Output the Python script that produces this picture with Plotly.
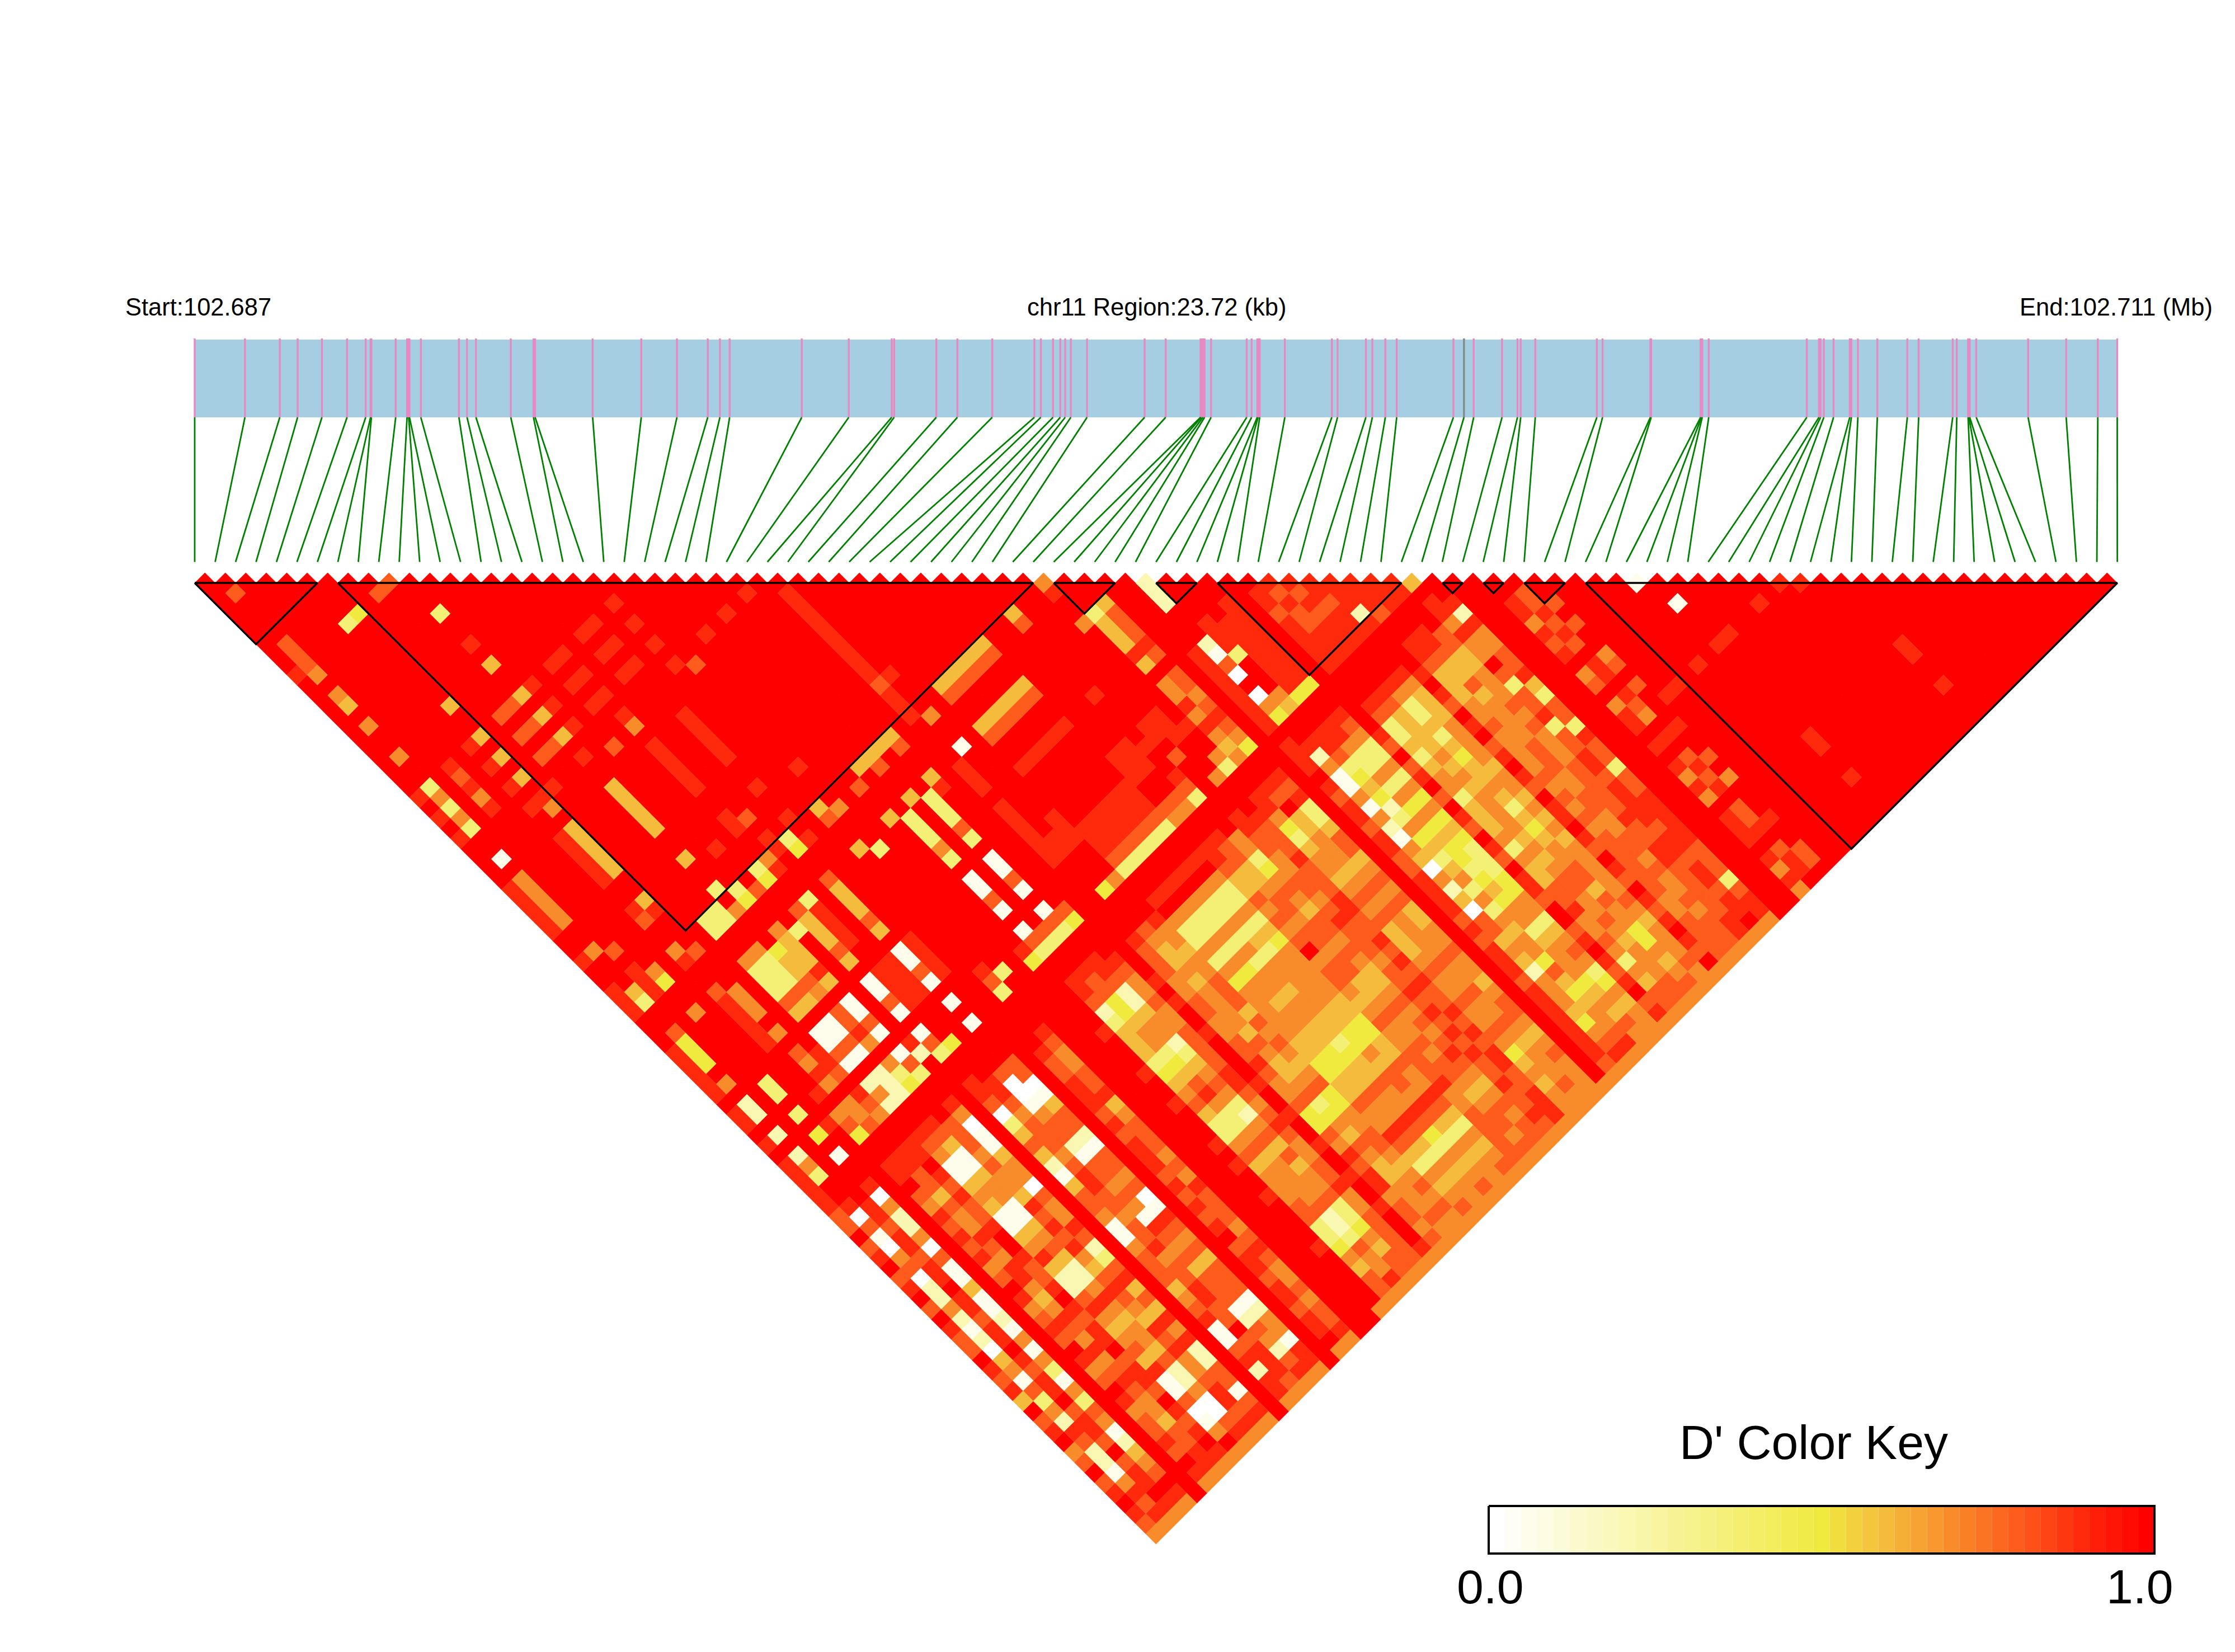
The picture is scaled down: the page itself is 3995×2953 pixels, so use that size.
import plotly.graph_objects as go

# SNP positions along chr11, in kb from the region start
SNP_KB = [0,0.62,1.05,1.27,1.57,1.88,2.11,2.17,2.18,2.48,2.62,2.64,2.65,2.79,3.26,3.36,3.47,3.90,4.18,4.20,
          4.91,5.51,5.95,6.33,6.48,6.60,7.49,8.07,8.60,8.63,9.15,9.41,9.84,10.36,10.44,10.59,10.68,10.74,10.81,11.01,
          11.72,11.98,12.41,12.42,12.44,12.46,12.54,12.98,13.04,13.11,13.12,13.14,13.45,14.03,14.10,14.45,14.53,14.69,14.83,15.53,
          15.66,15.78,16.13,16.32,16.36,16.54,17.30,17.37,17.96,17.97,18.58,18.59,18.60,18.68,19.89,20.04,20.06,20.10,20.22,20.42,
          20.44,20.52,20.76,21.13,21.27,21.69,21.74,21.88,21.89,21.90,21.98,22.62,23.09,23.48,23.72]
REGION_KB = 23.72
LD_BLOCKS = [(0,6),(7,41),(42,45),(47,49),(50,59),(61,62),(63,64),(65,67),(68,94)]

# D' is kept as a level 0-9; everything not listed below is level 9 (D'=1)
LEVEL_DPRIME = [0.0,0.05,0.2,0.36,0.5,0.6,0.7,0.8,0.9,1.0]

# runs of equal D': (first row, last row, first column, last column, level)
DPRIME_RUNS = [
 (31,35,42,42,5),(31,35,43,43,7),(23,26,42,42,5),(10,10,31,35,5),(6,6,31,35,5),(5,5,31,35,8),(1,1,31,35,6),(0,0,31,35,8),
 (1,1,8,10,7),(28,28,30,42,8),(17,17,31,35,8),(14,14,31,35,8),(14,14,47,50,8),(28,28,47,49,8),(28,28,51,54,8),
 (5,5,47,51,8),(6,6,47,49,6),(1,1,47,49,4),(0,0,47,49,8),(42,42,47,49,5),(43,43,47,49,7),(46,46,47,49,2),
 (31,35,46,46,5),(31,35,47,47,7),(31,35,50,50,8),(31,36,56,56,8),(31,35,57,57,8),(31,35,58,58,8),(31,35,59,59,7),(31,35,60,60,3),
 (36,37,54,56,8),(38,39,55,55,8),(40,40,54,56,8),(8,9,47,49,3),(8,9,42,43,3),(8,9,50,50,7),(8,9,51,51,5),(8,9,53,54,1),(14,15,53,56,8),(17,17,53,56,8),
 (23,23,47,49,3),(25,25,47,49,3),(16,16,47,49,5),(11,11,47,49,5),(13,13,47,49,5),(30,30,54,56,8),(28,29,55,56,8),(16,17,22,22,8),
 (16,17,24,24,8),(16,17,26,26,8),(13,14,22,22,8),(13,14,24,24,8),(13,14,26,26,8),(66,67,78,78,8),
]

# single cells: (row, column, level)
DPRIME_CELLS = [
 (1,3,7),(8,10,7),(9,10,7),(6,10,4),(5,10,3),(10,14,3),(10,17,8),(10,19,5),(19,22,8),(19,24,8),(11,22,8),(10,22,5),(9,22,7),(8,22,7),
 (11,24,8),(10,24,5),(9,24,7),(8,24,7),(11,26,8),(10,26,5),(9,26,7),(8,26,7),(14,28,8),(14,29,6),(12,29,7),(10,28,8),(6,22,5),(5,22,8),
 (6,24,5),(5,24,8),(6,26,5),(5,26,8),(6,19,5),(7,28,8),(5,28,8),(6,28,8),(6,29,6),(3,22,8),(3,23,7),(3,24,8),(3,25,6),(3,26,8),
 (1,22,3),(1,23,6),(1,24,3),(1,25,6),(1,26,3),(0,22,8),(0,24,8),(0,26,8),(1,29,1),(0,38,8),(1,38,6),(2,39,7),(1,16,6),(1,13,6),(1,14,5),(0,10,8),
 (1,11,6),(1,19,6),(26,28,8),(24,28,8),(22,28,8),(19,26,8),(19,28,8),(20,29,7),(28,39,7),(29,39,8),(29,43,6),(20,39,8),(17,38,8),(14,38,8),(15,39,7),(14,39,8),
 (17,41,8),(15,41,8),(12,39,8),(10,38,5),(6,38,5),(6,39,8),(5,38,8),(5,39,7),(10,41,3),(16,42,3),(16,43,4),(17,43,8),(15,42,8),(14,42,6),(14,43,8),(13,42,3),(13,43,4),
 (11,42,3),(11,43,4),(12,43,7),(10,43,6),(38,42,5),(38,43,7),(41,42,6),(41,43,8),(19,42,5),(20,43,6),(19,43,7),(24,43,7),(22,43,7),(26,43,7),
 (2,41,8),(3,42,6),(3,43,4),(2,42,8),(2,43,8),(0,41,8),(1,42,5),(1,43,3),(0,42,8),(0,43,8),(5,42,6),(6,43,7),(5,43,8),
 (5,46,7),(3,46,6),(1,46,7),(0,50,8),(1,51,6),(0,51,8),(6,51,6),(14,46,3),(13,46,7),(12,47,3),(11,46,6),(13,50,7),(13,51,5),(10,47,4),(10,48,5),(10,49,5),(10,50,7),(10,51,6),
 (11,50,8),(11,51,5),(9,46,6),(8,46,6),(13,53,1),(13,54,1),(13,55,7),(13,56,1),(16,53,1),(16,54,1),(16,55,7),(16,56,1),(11,53,1),(11,54,1),(10,53,7),(10,54,7),(11,55,7),(10,55,8),
 (9,55,7),(8,55,7),(11,56,1),(10,56,6),(9,56,1),(8,56,1),(13,58,1),(11,58,1),(12,59,2),(12,58,8),(13,59,7),(14,60,4),(13,60,3),(11,59,7),(10,58,6),(9,58,2),(8,58,2),(10,59,3),(9,59,2),(8,59,6),
 (11,60,3),(10,60,4),(9,60,2),(8,60,2),(7,58,8),(6,58,6),(5,58,6),(4,58,8),(7,59,7),(6,59,6),(5,59,7),(7,60,6),(6,60,7),(5,60,4),(6,56,6),(5,56,8),(7,56,7),(6,53,7),(6,54,6),(7,54,8),(7,55,8),(6,55,8),
 (3,53,3),(3,54,3),(1,53,2),(1,54,2),(0,53,8),(0,54,8),(3,56,3),(1,56,2),(0,56,8),(3,58,4),(1,58,2),(1,59,6),(1,60,3),(0,58,8),(0,59,8),(0,60,8),(3,60,1),
 (29,46,1),(25,53,1),(25,54,1),(25,55,7),(25,56,1),(23,53,1),(23,54,1),(23,55,7),(23,56,1),(25,58,1),(23,58,1),(26,60,4),(25,60,3),(25,59,7),(24,59,7),(24,60,3),(23,60,3),(22,60,4),(23,59,7),(22,59,8),
 (20,59,3),(19,60,3),(19,59,7),(19,58,8),(26,59,7),(16,58,1),(16,60,1),(29,60,4),(30,60,6),(36,60,6),(37,60,6),(38,60,3),(38,59,7),(37,59,7),(36,59,7),(39,57,7),(39,54,8),(38,58,8),
 (26,46,5),(26,47,8),(24,46,5),(25,50,7),(25,51,3),(22,46,5),(23,50,6),(23,51,3),(19,46,5),(20,47,3),(16,46,7),(16,50,7),(16,51,5),
 (41,42,6),(42,46,3),(43,46,5),(43,50,8),(41,46,6),(42,50,8),(42,51,5),(43,51,7),(42,53,6),(42,54,6),(43,53,7),(43,54,7),(43,55,6),(43,56,7),(42,56,6),(42,55,8),(43,57,8),(42,57,8),(43,58,7),(42,58,6),(43,59,6),(42,59,5),(43,60,4),(42,60,6),(41,60,3),(41,59,6),(40,60,6),(41,56,8),
 (38,50,8),(59,60,5),(58,60,7),(70,71,1),(71,74,1),(75,78,8),(72,78,8),(71,78,8),(69,78,8),(71,87,8),(71,88,8),(71,91,8),(80,87,8),(80,88,8),(80,91,8),(77,78,8),(78,79,8),
 (63,66,8),(64,66,7),(64,67,7),(63,67,8),(64,68,8),(63,68,6),(65,68,7),(64,69,7),(63,69,8),(65,70,7),(64,70,8),(63,70,7),(64,71,7),(63,71,8),
 (65,73,6),(65,74,7),(64,73,8),(64,74,8),(63,73,6),(63,74,7),(65,76,7),(64,76,8),(63,76,6),(64,77,7),(63,77,8),(64,78,6),(63,78,8),(65,80,8),(64,80,8),(63,80,8),
 (64,82,7),(65,83,7),(63,82,8),(64,83,8),(63,83,6),(65,85,6),(64,85,8),(63,85,6),(64,84,7),(63,84,8),(64,87,7),(64,88,7),(63,87,8),(63,88,8),(65,89,8),(64,89,8),(63,89,8),
 (64,91,7),(65,92,7),(63,91,8),(64,92,8),(63,92,6),(64,93,8),(63,93,8),(63,94,6),(65,93,7),
]

# rows 45-58 against columns 52-60 (cells on or above the diagonal do not exist and are skipped)
MID_FIRST_ROW, MID_FIRST_COL = 45, 52
MID_ROWS = ["988888888","921709064","888399965","988888884","888888884","999999999","988788888","887877888",
            "888787888","978887888","888888828","988878887","988878888","998888888"]

# rows 0-60 against columns 61-94
FAR_FIRST_COL = 61
FAR_ROWS = [
 "88779 78978 97987 79878 59789 67978 9876",
 "99807 10670 22621 20561 73628 72216 8786",
 "99988 78878 89887 88987 88978 87978 8986",
 "99806 22607 11511 21616 31637 61256 7986",
 "99999 99999 99999 99999 99999 99999 9999",
 "99889 76878 78679 86787 98679 86778 7986",
 "99887 75766 87688 65687 68678 76657 7886",
 "99889 87877 89987 78987 88978 87987 8986",
 "99876 11565 11568 52278 65675 81170 1696",
 "99875 11566 11567 52268 65665 72260 0786",
 "99977 76766 58787 86578 76587 86678 8786",
 "99860 11566 07668 72378 57586 82277 1786",
 "99999 99999 99999 99999 99999 99999 9999",
 "99887 03575 21577 61167 77567 81178 2886",
 "99988 76777 67887 76778 67788 77978 8876",
 "99970 01677 21776 76187 67577 71276 2786",
 "99977 01577 21776 70187 67577 71266 1886",
 "99999 99999 99999 99999 99999 99999 9999",
 "99998 77888 78788 87878 78978 87887 8896",
 "99987 66778 56777 67687 77678 76676 7786",
 "99999 99999 99999 99999 99999 99999 9999",
 "99999 99999 99999 99999 99999 99999 9999",
 "99999 98999 89989 99898 99899 99899 9996",
 "99887 23555 34567 53367 56667 73346 5776",
 "99877 44566 34578 63367 56666 72237 6686",
 "99887 22566 23567 63267 57566 73346 5776",
 "99987 66766 77778 87678 76677 86677 7776",
 "99999 98989 98999 98998 99899 89989 9986",
 "99987 77667 76677 87667 44768 78867 7676",
 "99976 55656 66657 65567 34657 65566 6766",
 "99986 65667 77576 76567 44667 76567 6766",
 "99896 33636 46666 65544 55766 87536 5676",
 "99896 33636 46656 65544 55766 87536 5666",
 "99896 33636 36656 65534 55766 87436 5676",
 "99896 33635 36666 65544 65776 87536 5666",
 "99896 33635 46666 65544 55766 87536 5676",
 "99887 55767 67967 76567 66777 86677 7776",
 "99877 55677 67767 75567 66767 76567 7676",
 "99966 34676 57767 65567 67678 76567 6776",
 "99887 76677 67877 76778 78787 87787 7876",
 "99987 77877 78877 87878 77878 78877 8886",
 "99886 43566 56767 55567 66766 76456 5666",
 "99879 55666 56767 66667 66766 76566 6766",
 "99878 33577 56767 55667 66567 76567 6666",
 "99999 99999 99999 99999 99999 99999 9996",
 "98889 87887 88778 88878 78887 88888 8876",
 "99826 11616 21650 62507 75652 66654 6786",
 "99887 34542 36453 56363 65664 75456 6786",
 "99886 33636 46454 43454 66356 66456 5766",
 "99876 33636 46454 33344 66356 76346 5666",
 "99999 87978 97987 98798 87997 89878 9786",
 "99987 33535 66355 56365 57786 67636 5776",
 "99987 55556 56566 66565 67766 76566 6776",
 "99986 33535 45565 35456 67757 66446 5676",
 "99986 55566 66566 56565 66666 76566 6766",
 "99998 98798 97898 79889 87987 98789 8796",
 "99887 55566 76666 76767 67777 77667 7776",
 "99887 55756 66677 76677 66776 76676 7776",
 "99977 55666 76766 67777 78778 87777 7886",
 "98868 66973 77837 78878 88878 87887 8896",
 "99828 66778 53773 87737 78888 87773 7886",
]

TEXTS_TOP = {"start": "Start:102.687", "middle": "chr11 Region:23.72 (kb)", "end": "End:102.711 (Mb)"}
KEY_TITLE = "D' Color Key"
KEY_LOW, KEY_HIGH = "0.0", "1.0"

N = len(SNP_KB)
X0, Y0, HALF = 348.0, 1042.0, 18.28
TRACK_L, TRACK_R, TRACK_T, TRACK_B, LINE_B = 348.0, 3784.5, 607.0, 746.0, 1004.5

STOPS = [(0.0,(255,255,255)),(0.5,(240,234,63)),(0.55,(242,208,62)),(0.6,(244,187,60)),(0.7,(249,140,42)),
         (0.8,(253,92,28)),(0.9,(255,42,12)),(1.0,(255,0,0))]

def colour(v):
    for (a, ca), (b, cb) in zip(STOPS, STOPS[1:]):
        if v <= b:
            t = (v - a) / (b - a)
            return "rgb(%d,%d,%d)" % tuple(round(p + (q - p) * t) for p, q in zip(ca, cb))
    return "rgb(255,0,0)"

# assemble the matrix of levels
level = {(i, j): 9 for i in range(N) for j in range(i + 1, N)}
for i0, i1, j0, j1, lv in DPRIME_RUNS:
    for i in range(i0, i1 + 1):
        for j in range(j0, j1 + 1):
            if (i, j) in level:
                level[(i, j)] = lv
for i, j, lv in DPRIME_CELLS:
    level[(i, j)] = lv
for r, row in enumerate(MID_ROWS):
    for c, ch in enumerate(row):
        if (MID_FIRST_ROW + r, MID_FIRST_COL + c) in level:
            level[(MID_FIRST_ROW + r, MID_FIRST_COL + c)] = int(ch)
for i, row in enumerate(FAR_ROWS):
    for c, ch in enumerate(row.replace(" ", "")):
        if (i, FAR_FIRST_COL + c) in level:
            level[(i, FAR_FIRST_COL + c)] = int(ch)

fig = go.Figure()

# gene track
fig.add_trace(go.Scatter(x=[TRACK_L, TRACK_R, TRACK_R, TRACK_L, TRACK_L], y=[TRACK_T, TRACK_T, TRACK_B, TRACK_B, TRACK_T],
                         mode="lines", fill="toself", fillcolor="#a6cee3", line=dict(width=0), hoverinfo="skip"))
px = [TRACK_L + kb / REGION_KB * (TRACK_R - TRACK_L) for kb in SNP_KB]
tx, ty, gx, gy = [], [], [], []
for k, x in enumerate(px):
    tx += [x, x, None]
    ty += [TRACK_T - 2, TRACK_B, None]
    gx += [x, X0 + 2 * k * HALF, None]
    gy += [TRACK_B, LINE_B, None]
fig.add_trace(go.Scatter(x=tx, y=ty, mode="lines", line=dict(color="#e78ac3", width=3.4), hoverinfo="skip"))
fig.add_trace(go.Scatter(x=[px[60], px[60]], y=[TRACK_T - 2, TRACK_B], mode="lines", line=dict(color="#7f8f8f", width=3.4), hoverinfo="skip"))
fig.add_trace(go.Scatter(x=gx, y=gy, mode="lines", line=dict(color="#008000", width=2.8), hoverinfo="skip"))

# LD cells, one polygon set per level
for lv in sorted(set(level.values()), reverse=True):
    xs, ys = [], []
    for (i, j), l in level.items():
        if l != lv:
            continue
        cx = X0 + (i + j) * HALF
        cy = Y0 + (j - i - 1) * HALF
        xs += [cx - HALF, cx, cx + HALF, cx, cx - HALF, None]
        ys += [cy, cy - HALF, cy, cy + HALF, cy, None]
    c = colour(LEVEL_DPRIME[lv])
    fig.add_trace(go.Scatter(x=xs, y=ys, mode="lines", fill="toself", fillcolor=c, line=dict(color=c, width=0.4), hoverinfo="skip"))

# LD block outlines
bx, by = [], []
for a, b in LD_BLOCKS:
    bx += [X0 + 2 * a * HALF, X0 + 2 * b * HALF, X0 + (a + b) * HALF, X0 + 2 * a * HALF, None]
    by += [Y0, Y0, Y0 + (b - a) * HALF, Y0, None]
fig.add_trace(go.Scatter(x=bx, y=by, mode="lines", line=dict(color="black", width=3.4), hoverinfo="skip"))

# colour key
KEY_L, KEY_R, KEY_T, KEY_B = 2661.0, 3851.0, 2692.0, 2777.0
KEY_STEPS = 41
w = (KEY_R - KEY_L) / KEY_STEPS
for k in range(KEY_STEPS):
    c = colour(k / (KEY_STEPS - 1))
    x1, x2 = KEY_L + k * w, KEY_L + (k + 1) * w
    fig.add_trace(go.Scatter(x=[x1, x2, x2, x1, x1], y=[KEY_T, KEY_T, KEY_B, KEY_B, KEY_T], mode="lines", fill="toself",
                             fillcolor=c, line=dict(width=0), hoverinfo="skip"))
fig.add_trace(go.Scatter(x=[KEY_L, KEY_R, KEY_R, KEY_L, KEY_L], y=[KEY_T, KEY_T, KEY_B, KEY_B, KEY_T], mode="lines",
                         line=dict(color="black", width=4), hoverinfo="skip"))

FONT = "Liberation Sans, Arial, sans-serif"
def label(x, y, text, size, anchor="center"):
    fig.add_annotation(x=x, y=y, text=text, showarrow=False, xanchor=anchor, yanchor="middle",
                       font=dict(family=FONT, size=size, color="black"))
label(222, 549, TEXTS_TOP["start"], 43.5, "left")
label(2067, 549, TEXTS_TOP["middle"], 43.5)
label(3957, 549, TEXTS_TOP["end"], 43.5, "right")
label(3242, 2578, KEY_TITLE, 86)
label(2664, 2836, KEY_LOW, 86)
label(3825, 2836, KEY_HIGH, 86)

fig.update_layout(width=3995, height=2953, margin=dict(l=0, r=0, t=0, b=0), showlegend=False,
                  paper_bgcolor="white", plot_bgcolor="white",
                  xaxis=dict(range=[0, 3995], visible=False, fixedrange=True),
                  yaxis=dict(range=[2953, 0], visible=False, fixedrange=True))
fig.write_html("out.html", config={"displayModeBar": False},
               post_script="document.body.style.margin='0';document.body.style.overflow='hidden';")
